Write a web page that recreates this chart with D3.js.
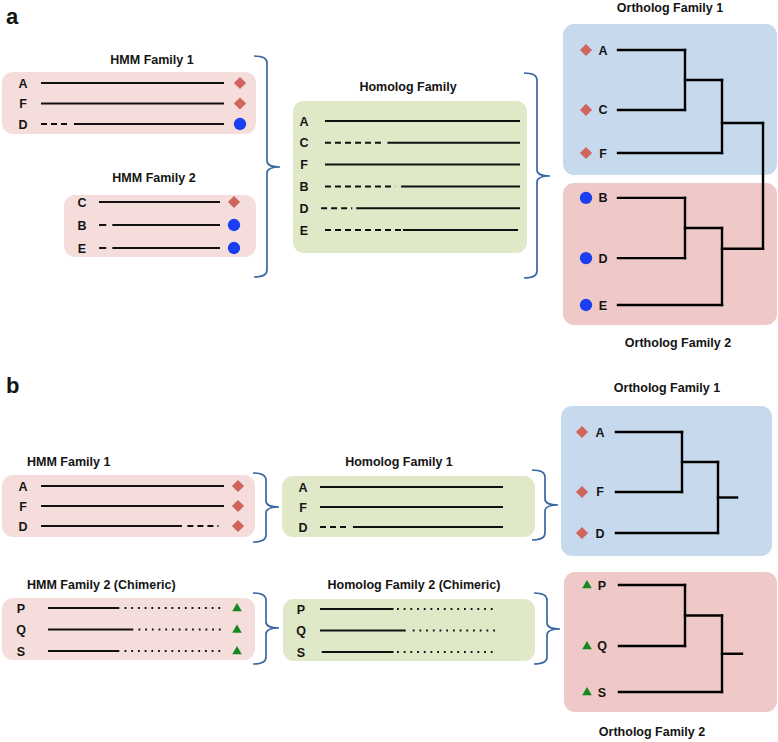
<!DOCTYPE html>
<html><head><meta charset="utf-8">
<script src="https://cdn.jsdelivr.net/npm/d3@7"></script>
<style>
body{margin:0;background:#fff}
svg{display:block}
text{font-family:"Liberation Sans",Arial,Helvetica,sans-serif;font-weight:bold;fill:#141414}
</style>
</head><body>
<svg id="c" width="778" height="742"></svg>
<script>
// ================= DATA =================
const panelLabels = ["a", "b"];
const titlesA = ["HMM Family 1", "HMM Family 2", "Homolog Family", "Ortholog Family 1", "Ortholog Family 2"];
const titlesB = ["HMM Family 1", "HMM Family 2 (Chimeric)", "Homolog Family 1", "Homolog Family 2 (Chimeric)", "Ortholog Family 1", "Ortholog Family 2"];

// sequence rows: segments [style, start, end] in alignment units (0-100)
const hmmA1 = [
  {id: "A", seg: [["solid", 0, 100]], mark: "diamond"},
  {id: "F", seg: [["solid", 0, 100]], mark: "diamond"},
  {id: "D", seg: [["dash", 0, 16], ["solid", 18, 100]], mark: "circle"}
];
const hmmA2 = [
  {id: "C", seg: [["solid", 0, 100]], mark: "diamond"},
  {id: "B", seg: [["solid", 0, 6], ["solid", 11, 100]], mark: "circle"},
  {id: "E", seg: [["solid", 0, 6], ["solid", 11, 100]], mark: "circle"}
];
const homA = [
  {id: "A", seg: [["solid", 0, 100]]},
  {id: "C", seg: [["dash", 0, 30], ["solid", 32, 100]]},
  {id: "F", seg: [["solid", 0, 100]]},
  {id: "B", seg: [["dash", 0, 36], ["solid", 39, 100]]},
  {id: "D", seg: [["dash", -2, 14], ["solid", 16, 100]]},
  {id: "E", seg: [["dash", 0, 39], ["solid", 40, 99]]}
];
const hmmB1 = [
  {id: "A", seg: [["solid", 0, 100]], mark: "diamond"},
  {id: "F", seg: [["solid", 0, 100]], mark: "diamond"},
  {id: "D", seg: [["solid", 0, 77], ["dash", 80, 97]], mark: "diamond"}
];
const hmmB2 = [
  {id: "P", seg: [["solid", 0, 41], ["dot", 44, 100]], mark: "triangle"},
  {id: "Q", seg: [["solid", 0, 49], ["dot", 52, 100]], mark: "triangle"},
  {id: "S", seg: [["solid", 0, 41], ["dot", 44, 100]], mark: "triangle"}
];
const homB1 = [
  {id: "A", seg: [["solid", 0, 100]]},
  {id: "F", seg: [["solid", 0, 100]]},
  {id: "D", seg: [["dash", 0, 16], ["solid", 18, 100]]}
];
const homB2 = [
  {id: "P", seg: [["solid", 0, 42], ["dot", 44, 100]]},
  {id: "Q", seg: [["solid", 0, 49], ["dot", 53, 100]]},
  {id: "S", seg: [["solid", 1, 42], ["dot", 44, 100]]}
];

// trees: leaf "pos" = relative vertical track position (0-1), "at" = attach fraction along node span
const treeA = {children: [
  {at: 0.59, children: [
    {children: [{name: "A", pos: 0, mark: "diamond"}, {name: "C", pos: 0.235, mark: "diamond"}]},
    {name: "F", pos: 0.404, mark: "diamond"}]},
  {at: 0.27, children: [
    {children: [{name: "B", pos: 0.58, mark: "circle"}, {name: "D", pos: 0.816, mark: "circle"}]},
    {name: "E", pos: 1, mark: "circle"}]}
]};
const treeB1 = {children: [
  {children: [{name: "A", pos: 0, mark: "diamond"}, {name: "F", pos: 0.594, mark: "diamond"}]},
  {name: "D", pos: 1, mark: "diamond"}
]};
const treeB2 = {children: [
  {children: [{name: "P", pos: 0, mark: "triangle"}, {name: "Q", pos: 0.57, mark: "triangle"}]},
  {name: "S", pos: 1, mark: "triangle"}
]};

// ================= STYLE =================
const C = {
  hmm: "#f5dddc", hom: "#dfe8c7", orthBlue: "#c7d9ed", orthPink: "#efc8c8",
  diamond: "#d0655e", circle: "#1b3ef2", triangle: "#13891f", brace: "#3a67a3", line: "#111"
};
const dashes = {solid: null, dash: "6,4", dot: "1.8,4.9"};

const svg = d3.select("#c");

function box(x, y, w, h, fill) {
  svg.append("rect").attr("x", x).attr("y", y).attr("width", w).attr("height", h)
    .attr("rx", 11).attr("ry", 11).attr("fill", fill);
}
function title(txt, x, y, anchor) {
  svg.append("text").attr("x", x).attr("y", y).attr("dy", "0.35em")
    .attr("text-anchor", anchor || "middle").attr("font-size", 12.5).text(txt);
}
function marker(g, type, x, y) {
  if (type === "diamond") {
    g.append("path").attr("d", d3.symbol(d3.symbolSquare, 74)())
      .attr("transform", `translate(${x},${y}) rotate(45)`).attr("fill", C.diamond);
  } else if (type === "circle") {
    g.append("path").attr("d", d3.symbol(d3.symbolCircle, 120)())
      .attr("transform", `translate(${x},${y})`).attr("fill", C.circle);
  } else {
    g.append("path").attr("d", d3.symbol(d3.symbolTriangle, 40)())
      .attr("transform", `translate(${x},${y + 0.5})`).attr("fill", C.triangle);
  }
}
function rows(data, o) {
  const xs = d3.scaleLinear().domain([0, 100]).range([o.x0, o.x1]);
  const ys = d3.scalePoint().domain(data.map(d => d.id)).range([o.y0, o.y1]);
  const g = svg.append("g");
  data.forEach(d => {
    const y = ys(d.id);
    g.append("text").attr("x", o.labelX).attr("y", y).attr("dy", "0.36em")
      .attr("text-anchor", "middle").attr("font-size", 12.5).text(d.id);
    d.seg.forEach(s => {
      g.append("line").attr("x1", xs(s[1])).attr("x2", xs(s[2])).attr("y1", y).attr("y2", y)
        .attr("stroke", C.line).attr("stroke-width", 2)
        .attr("stroke-dasharray", dashes[s[0]]);
    });
    if (d.mark) marker(g, d.mark, o.markX, y);
  });
}
function brace(x, y0, y1, ym) {
  const h = 13;
  const p = `M${x - h},${y0} Q${x},${y0} ${x},${y0 + 7} L${x},${ym - 6} Q${x},${ym} ${x + h},${ym}` +
            ` Q${x},${ym} ${x},${ym + 6} L${x},${y1 - 7} Q${x},${y1} ${x - h},${y1}`;
  svg.append("path").attr("d", p).attr("fill", "none").attr("stroke", C.brace).attr("stroke-width", 1.7);
}
function tree(data, o) {
  const root = d3.hierarchy(data);
  const xs = d3.scaleLinear().domain(o.heights.map((_, i) => i)).range(o.heights);
  const ys = d3.scaleLinear().domain([0, 1]).range([o.y0, o.y1]);
  root.eachAfter(n => {
    if (!n.children) { n.px = o.leafX; n.py = ys(n.data.pos); }
    else {
      const a = n.children[0].py, b = n.children[n.children.length - 1].py;
      const f = n.data.at == null ? 0.5 : n.data.at;
      n.px = xs(n.height); n.py = a + f * (b - a);
    }
  });
  const g = svg.append("g");
  const ln = (x1, y1, x2, y2) => g.append("line").attr("x1", x1).attr("y1", y1).attr("x2", x2).attr("y2", y2)
    .attr("stroke", "#000").attr("stroke-width", 2.4).attr("stroke-linecap", "square");
  root.each(n => {
    if (n.children) {
      ln(n.px, n.children[0].py, n.px, n.children[n.children.length - 1].py);
      n.children.forEach(c => ln(c.px, c.py, n.px, c.py));
    } else {
      marker(g, n.data.mark, o.markX, n.py);
      g.append("text").attr("x", o.labelX).attr("y", n.py).attr("dy", "0.36em")
        .attr("text-anchor", "middle").attr("font-size", 12.5).text(n.data.name);
    }
  });
  if (o.stub) ln(root.px, root.py, o.stub, root.py);
}
function panelLabel(t, x, y) {
  svg.append("text").attr("x", x).attr("y", y).attr("font-size", 22).text(t);
}

// ================= PANEL a =================
panelLabel(panelLabels[0], 6, 24);
title(titlesA[0], 152, 60);
box(2, 72, 254, 62, C.hmm);
rows(hmmA1, {labelX: 23, x0: 41, x1: 224, y0: 83, y1: 124, markX: 240});
title(titlesA[1], 154, 178);
box(64, 195, 192, 62, C.hmm);
rows(hmmA2, {labelX: 82, x0: 99, x1: 220, y0: 202, y1: 248, markX: 234});
brace(267, 56, 277, 167);

title(titlesA[2], 408, 87);
box(293, 101, 234, 152, C.hom);
rows(homA, {labelX: 304, x0: 325, x1: 520, y0: 121, y1: 230});
brace(537, 73, 278, 176);

title(titlesA[3], 670, 8);
box(563, 24, 214, 151, C.orthBlue);
box(563, 183, 214, 142, C.orthPink);
tree(treeA, {leafX: 618, heights: [618, 685, 722, 763], y0: 50, y1: 305, markX: 586, labelX: 603});
title(titlesA[4], 678, 343);

// ================= PANEL b =================
panelLabel(panelLabels[1], 6, 393);
title(titlesB[0], 27, 462, "start");
box(2, 475, 253, 62, C.hmm);
rows(hmmB1, {labelX: 23, x0: 41, x1: 224, y0: 486, y1: 526, markX: 238});
brace(266, 473, 542, 507);

title(titlesB[1], 27, 585, "start");
box(2, 598, 253, 62, C.hmm);
rows(hmmB2, {labelX: 21, x0: 48, x1: 222, y0: 608, y1: 651, markX: 237});
brace(266, 593, 664, 628);

title(titlesB[2], 399, 462);
box(282, 476, 253, 61, C.hom);
rows(homB1, {labelX: 303, x0: 320, x1: 503, y0: 487, y1: 527});
brace(545, 470, 540, 505);

title(titlesB[3], 414, 585);
box(283, 599, 252, 62, C.hom);
rows(homB2, {labelX: 301, x0: 320, x1: 495, y0: 609, y1: 652});
brace(547, 593, 664, 629);

title(titlesB[4], 667, 388);
box(561, 406, 211, 150, C.orthBlue);
tree(treeB1, {leafX: 616, heights: [616, 682, 718], y0: 432, y1: 533, markX: 582, labelX: 600, stub: 737});
box(564, 572, 213, 140, C.orthPink);
tree(treeB2, {leafX: 619, heights: [619, 685, 722], y0: 585, y1: 692, markX: 587, labelX: 602, stub: 742});
title(titlesB[5], 652, 732);
</script>
</body></html>
